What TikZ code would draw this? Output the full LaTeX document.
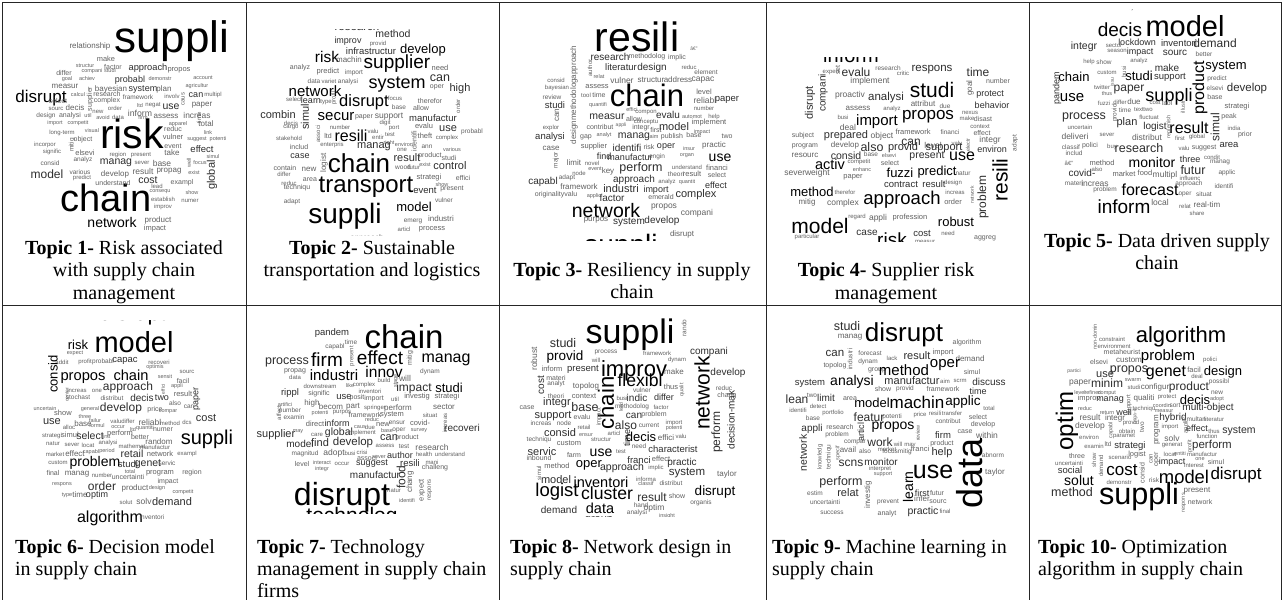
\documentclass[tikz,border=0pt]{standalone}
\usepackage{fontspec}
\newfontfamily\cloudfont{Liberation Sans}
\newfontfamily\capfont{Liberation Serif}
\tikzset{
  cw/.style={inner sep=0pt,outer sep=0pt,anchor=center},
  captext/.style={inner sep=0pt,outer sep=0pt,font=\capfont\fontsize{20}{22.5}\selectfont,text=black},
  tablerule/.style={draw=black!85,line width=0.8pt}
}
% one word of a cloud: x, y, size (pt), text; shade follows the size
\newcommand\Wd[4]{\pgfmathtruncatemacro\wtone{#3>12.9?100:(#3>8.9?82:62)}%
  \node[cw,text=black!\wtone,font={\cloudfont\fontsize{#3}{#3}\selectfont}] at (#1,#2) {#4};}
% the same word set vertically, read from bottom to top
\newcommand\Wv[4]{\pgfmathtruncatemacro\wtone{#3>12.9?100:(#3>8.9?82:62)}%
  \node[cw,rotate=90,text=black!\wtone,font={\cloudfont\fontsize{#3}{#3}\selectfont}] at (#1,#2) {#4};}
\begin{document}
\begin{tikzpicture}[x=1pt,y=-1pt]
\useasboundingbox (0,0) rectangle (1283,600);
\fill[white] (0,0) rectangle (1283,600);

% ---------------- cloud 1: risk ----------------
\Wd{172}{41}{44}{suppli}
\Wd{132}{134}{41}{risk}
\Wd{106}{198}{38}{chain}
\Wd{41}{98}{17}{disrupt}
\Wd{112}{222}{14}{network}
\Wd{47}{174}{12}{model}
\Wd{116}{163}{10.5}{manag}
\Wd{148}{180}{10.5}{cost}
\Wd{202}{149}{9.5}{effect}
\Wd{148}{68}{9.3}{approach}
\Wd{130}{80}{9}{probabl}
\Wd{171}{107}{10.5}{use}
\Wd{196}{95}{9}{can}
\Wd{202}{105}{8}{paper}
\Wv{212}{175}{11}{global}
\Wd{206}{124}{8}{total}
\Wd{197}{115}{8.4}{increas}
\Wd{166}{116}{8}{assess}
\Wd{140}{113}{8.7}{inform}
\Wd{143}{90}{9}{system}
\Wd{164}{89}{8}{plan}
\Wd{111}{89}{8}{bayesian}
\Wd{65}{86}{8}{measur}
\Wd{64}{73}{7}{differ}
\Wd{106}{59}{7.4}{make}
\Wd{113}{67}{7}{factor}
\Wd{90}{46}{8}{relationship}
\Wd{179}{70}{7.5}{propos}
\Wd{58}{101}{7}{select}
\Wd{75}{108}{8}{decis}
\Wd{70}{116}{7}{analysi}
\Wd{46}{116}{6.5}{design}
\Wd{56}{109}{6}{sourc}
\Wd{78}{95}{5.5}{calcul}
\Wd{107}{94}{7}{research}
\Wd{107}{101}{7}{complex}
\Wd{138}{97}{6.5}{framework}
\Wd{172}{96}{6}{involv}
\Wv{183}{99}{6}{caus}
\Wd{213}{95}{6}{multipl}
\Wd{197}{86}{5.5}{agricultur}
\Wd{203}{78}{5.5}{account}
\Wd{160}{79}{5.5}{demonstr}
\Wd{87}{79}{5.5}{achiev}
\Wd{67}{79}{5.5}{goal}
\Wd{85}{66}{5.5}{structur}
\Wd{92}{71}{5.5}{compani}
\Wd{110}{71}{5.5}{studi}
\Wv{90}{99}{7}{supplier}
\Wd{98}{112}{6}{new}
\Wd{115}{108}{6}{order}
\Wd{140}{106}{5.5}{ltd}
\Wd{153}{105}{6}{negat}
\Wd{88}{116}{5.5}{util}
\Wd{103}{118}{5.5}{avoid}
\Wd{118}{117}{6}{data}
\Wd{143}{118}{5.5}{firm}
\Wd{78}{123}{5.5}{competit}
\Wd{55}{123}{5.5}{import}
\Wd{92}{131}{5.5}{visual}
\Wd{62}{133}{6}{long-term}
\Wd{83}{140}{7}{object}
\Wd{45}{145}{6}{incorpor}
\Wd{52}{152}{6}{signific}
\Wv{72}{145}{6.5}{mitig}
\Wd{85}{153}{7.5}{elsevi}
\Wd{50}{163}{6.5}{consid}
\Wd{83}{160}{6.5}{analyz}
\Wd{118}{155}{6}{region}
\Wd{141}{155}{6}{present}
\Wd{142}{163}{6}{sever}
\Wd{80}{172}{6.5}{various}
\Wd{82}{178}{6}{predict}
\Wd{115}{174}{8}{develop}
\Wd{113}{183}{7}{understand}
\Wd{162}{163}{8.5}{base}
\Wd{143}{171}{8.5}{result}
\Wd{169}{171}{8}{propag}
\Wd{172}{153}{8}{take}
\Wd{173}{146}{7}{event}
\Wd{173}{137}{7.5}{vulner}
\Wd{173}{129}{7}{reduc}
\Wd{178}{124}{5.5}{apparel}
\Wv{199}{118}{6}{time}
\Wd{208}{133}{5.5}{link}
\Wd{197}{139}{5.5}{suggest}
\Wd{218}{139}{5.5}{potenti}
\Wd{213}{157}{5.5}{simul}
\Wd{200}{163}{5.5}{focus}
\Wv{189}{163}{5.5}{well}
\Wd{194}{173}{5.5}{exist}
\Wd{182}{183}{7}{exampl}
\Wd{157}{186}{6}{lead}
\Wd{160}{192}{5.5}{consequ}
\Wd{163}{199}{6}{establish}
\Wd{190}{201}{6}{numer}
\Wd{192}{193}{5.5}{show}
\Wd{163}{207}{6}{improv}
\Wd{158}{220}{8}{product}
\Wd{155}{229}{7.5}{impact}

% ---------------- cloud 2: transport ----------------
\begin{scope}
\clip (246,29) rectangle (499,235);
\Wd{357}{26}{11.5}{research}
\Wd{393}{34}{10.5}{method}
\Wd{348}{41}{9}{improv}
\Wd{378}{44}{6}{provid}
\Wd{371}{51}{9.5}{infrastructur}
\Wd{423}{50}{13}{develop}
\Wd{327}{57}{15.5}{risk}
\Wd{349}{60}{8}{machin}
\Wd{397}{64}{19}{supplier}
\Wd{300}{68}{7}{analyz}
\Wd{328}{72}{7.5}{predict}
\Wd{354}{73}{6.5}{import}
\Wd{440}{68}{7.5}{need}
\Wd{440}{78}{12.5}{can}
\Wd{314}{81}{6.5}{data}
\Wd{329}{81}{6}{variet}
\Wd{348}{82}{6.5}{analysi}
\Wd{397}{85}{18}{system}
\Wd{437}{87}{7}{oper}
\Wd{460}{89}{11}{high}
\Wd{315}{91}{15}{network}
\Wd{294}{99}{6}{select}
\Wd{311}{100}{9}{learn}
\Wd{326}{102}{6}{type}
\Wv{334}{98}{6}{profil}
\Wd{364}{102}{16.5}{disrupt}
\Wd{395}{98}{6}{focus}
\Wd{399}{107}{6.5}{base}
\Wd{430}{101}{7}{therefor}
\Wd{421}{108}{7}{allow}
\Wv{458}{106}{6}{order}
\Wd{278}{115}{11}{combin}
\Wv{305}{117}{11}{simul}
\Wd{291}{123}{6}{decis}
\Wd{291}{128}{6}{cargo}
\Wd{336}{117}{15}{secur}
\Wd{364}{117}{7}{paper}
\Wd{389}{117}{8.5}{support}
\Wd{433}{118}{9.5}{manufactur}
\Wd{340}{127}{6}{number}
\Wv{318}{134}{6}{associ}
\Wd{385}{123}{6}{digit}
\Wd{424}{126}{7.5}{evalu}
\Wd{394}{128}{6}{port}
\Wd{373}{131}{6}{valu}
\Wd{448}{129}{11}{use}
\Wd{472}{132}{6.5}{probabl}
\Wd{328}{136}{7}{ltd}
\Wd{351}{136}{16}{resili}
\Wd{378}{137}{6}{entir}
\Wd{390}{135}{6}{test}
\Wd{425}{136}{7.5}{theft}
\Wd{447}{138}{6}{complex}
\Wv{414}{141}{7}{identifi}
\Wd{289}{138}{6}{stakehold}
\Wd{332}{145}{6}{enterpris}
\Wd{389}{143}{5.5}{right}
\Wd{404}{145}{5.5}{environ}
\Wd{427}{147}{6.5}{ann}
\Wd{452}{150}{5.5}{various}
\Wd{374}{147}{11}{manag}
\Wd{402}{150}{6}{one}
\Wd{299}{147}{7}{includ}
\Wd{300}{156}{9}{case}
\Wv{324}{163}{8}{logist}
\Wd{359}{163}{26}{chain}
\Wd{407}{158}{11}{result}
\Wd{430}{156}{7}{product}
\Wd{449}{158}{7}{studi}
\Wd{285}{168}{7}{contain}
\Wd{309}{169}{8}{new}
\Wd{284}{174}{6}{differ}
\Wd{403}{167}{6.5}{wood}
\Wd{414}{167}{6}{futur}
\Wd{425}{165}{5.5}{exist}
\Wd{450}{166}{11}{control}
\Wd{289}{183}{6}{reduc}
\Wd{310}{180}{7}{area}
\Wd{297}{188}{7}{techniqu}
\Wd{366}{187}{24}{transport}
\Wd{429}{178}{7.5}{strategi}
\Wd{442}{185}{5.5}{show}
\Wd{463}{178}{7}{effici}
\Wd{425}{190}{9.5}{event}
\Wd{452}{189}{7}{present}
\Wd{292}{202}{6.5}{adapt}
\Wd{444}{200}{6.5}{vulner}
\Wd{345}{216}{28}{suppli}
\Wd{414}{207}{13}{model}
\Wd{413}{221}{6.5}{emerg}
\Wd{441}{219}{8}{industri}
\Wd{404}{229}{6}{articl}
\Wd{432}{229}{7.5}{process}
\Wd{367}{238}{8}{approach}
\end{scope}

% ---------------- cloud 3: resilience ----------------
\begin{scope}
\clip (499,0) rectangle (766,240);
\Wd{637}{37}{41}{resili}
\Wd{694}{49}{5}{â€\textquotedblright}
\Wd{610}{57}{10}{research}
\Wd{647}{57}{7}{methodolog}
\Wd{677}{58}{7}{implic}
\Wv{574}{95}{8}{designmethodologapproach}
\Wv{590}{68}{6}{author}
\Wd{621}{67}{9.5}{literatur}
\Wd{652}{68}{10}{design}
\Wd{689}{67}{6}{reduc}
\Wd{706}{72}{6.5}{element}
\Wd{556}{80}{6}{consid}
\Wd{599}{77}{5.5}{relat}
\Wd{622}{80}{8.5}{vulner}
\Wd{651}{80}{8}{structur}
\Wd{678}{80}{8}{address}
\Wd{703}{80}{8.5}{capac}
\Wd{557}{88}{6}{bayesian}
\Wd{597}{87}{7.5}{assess}
\Wd{647}{95}{31}{chain}
\Wd{704}{92}{7.5}{level}
\Wd{552}{97}{6.5}{review}
\Wd{586}{95}{6}{tool}
\Wd{599}{95}{7}{time}
\Wd{705}{100}{8.5}{reliabl}
\Wd{727}{100}{9.5}{paper}
\Wd{555}{105}{9.5}{studi}
\Wd{598}{105}{5.5}{quantifi}
\Wd{704}{108}{6}{number}
\Wv{557}{115}{8}{can}
\Wd{607}{117}{10.5}{measur}
\Wd{632}{110}{5.5}{effici}
\Wd{634}{119}{7}{allow}
\Wd{646}{113}{6}{compon}
\Wd{668}{115}{10}{evalu}
\Wd{692}{117}{5.5}{automot}
\Wd{714}{117}{6}{help}
\Wd{646}{122}{6}{conceptu}
\Wd{551}{128}{6}{explor}
\Wd{600}{127}{7}{contribut}
\Wd{621}{125}{5}{appli}
\Wd{641}{128}{7}{integr}
\Wd{656}{130}{7}{first}
\Wd{674}{127}{11}{model}
\Wd{709}{123}{7.5}{implement}
\Wd{702}{132}{5.5}{impact}
\Wd{550}{137}{9.5}{analysi}
\Wd{586}{137}{7}{gap}
\Wd{604}{135}{5.5}{analyt}
\Wd{634}{137}{10.5}{manag}
\Wd{654}{137}{5.5}{aim}
\Wd{672}{137}{7}{publish}
\Wd{694}{135}{7}{base}
\Wd{727}{136}{7}{two}
\Wd{551}{148}{8}{case}
\Wd{594}{147}{7.5}{supplier}
\Wd{627}{148}{10}{identifi}
\Wd{649}{147}{7}{risk}
\Wd{666}{147}{9}{oper}
\Wd{689}{149}{5.5}{insur}
\Wd{714}{145}{8}{practic}
\Wd{720}{158}{14}{use}
\Wv{556}{160}{6.5}{major}
\Wd{574}{163}{8}{limit}
\Wd{592}{163}{6}{novel}
\Wd{604}{156}{9}{find}
\Wd{630}{157}{9}{manufactur}
\Wd{657}{157}{6.5}{engin}
\Wd{687}{156}{5.5}{organ}
\Wd{579}{173}{6}{node}
\Wd{608}{171}{8}{key}
\Wd{595}{169}{5.5}{event}
\Wd{641}{168}{12.5}{perform}
\Wd{687}{167}{6}{understand}
\Wd{676}{174}{6.5}{theori}
\Wd{692}{174}{7.5}{result}
\Wd{717}{168}{7.5}{financi}
\Wd{717}{175}{7}{select}
\Wd{543}{182}{10}{capabl}
\Wd{567}{178}{6.5}{adapt}
\Wd{579}{187}{8}{framework}
\Wd{634}{180}{10}{approach}
\Wd{667}{182}{6}{analyz}
\Wd{687}{182}{5.5}{quantit}
\Wd{716}{185}{9}{effect}
\Wd{556}{195}{7}{originalityvalu}
\Wd{594}{196}{5.5}{applic}
\Wd{621}{189}{11}{industri}
\Wd{656}{190}{9}{import}
\Wd{612}{198}{10}{factor}
\Wd{661}{197}{7}{emerald}
\Wd{696}{195}{11}{complex}
\Wd{606}{211}{19.5}{network}
\Wd{664}{207}{8.5}{propos}
\Wd{697}{213}{8.5}{compani}
\Wd{596}{220}{8}{purpos}
\Wd{629}{222}{10}{system}
\Wd{662}{221}{10}{develop}
\Wd{682}{234}{8}{disrupt}
\Wd{621}{247}{28}{suppli}
\end{scope}

% ---------------- cloud 4: supplier risk ----------------
\begin{scope}
\clip (766,57) rectangle (1029,241);
\Wd{851}{55}{20}{inform}
\Wd{831}{72}{6}{expert}
\Wv{838}{70}{7}{set}
\Wd{856}{72}{12}{evalu}
\Wd{888}{68}{6.5}{research}
\Wd{903}{73}{6}{critic}
\Wd{932}{70}{11.5}{respons}
\Wd{978}{72}{12}{time}
\Wd{870}{81}{8.5}{implement}
\Wd{998}{81}{7}{number}
\Wv{810}{103}{11}{disrupt}
\Wv{823}{93}{10}{compani}
\Wd{850}{95}{8.5}{proactiv}
\Wd{886}{98}{11.5}{analysi}
\Wd{932}{90}{21}{studi}
\Wv{970}{88}{8}{goal}
\Wd{990}{95}{9}{protect}
\Wd{992}{105}{9}{behavior}
\Wd{858}{108}{8}{assess}
\Wd{892}{109}{6}{analyz}
\Wd{923}{104}{8}{attribut}
\Wd{945}{106}{6.5}{due}
\Wd{970}{113}{6}{nexus}
\Wd{928}{117}{17}{propos}
\Wd{843}{117}{6}{busi}
\Wd{877}{122}{15}{import}
\Wd{967}{118}{6}{make}
\Wd{983}{119}{7}{disast}
\Wd{848}{127}{8.5}{deal}
\Wd{980}{127}{6}{context}
\Wd{803}{136}{7}{subject}
\Wd{846}{136}{11}{prepared}
\Wd{882}{136}{8.5}{object}
\Wd{913}{132}{7.5}{framework}
\Wd{950}{132}{6.5}{financi}
\Wd{982}{133}{7}{effect}
\Wd{911}{142}{12}{can}
\Wd{933}{145}{8.5}{level}
\Wd{957}{143}{6}{valu}
\Wv{968}{145}{5.5}{electr}
\Wd{990}{140}{8.5}{integr}
\Wv{1015}{143}{6.5}{adapt}
\Wd{805}{146}{7}{program}
\Wd{845}{145}{8}{develop}
\Wd{872}{147}{12.5}{also}
\Wd{903}{148}{11}{provid}
\Wd{944}{148}{11}{support}
\Wd{992}{149}{9}{environ}
\Wd{805}{155}{8}{resourc}
\Wd{846}{156}{10.5}{consid}
\Wd{871}{154}{6.5}{base}
\Wd{889}{156}{5.5}{elsevi}
\Wd{927}{156}{10.5}{present}
\Wd{962}{156}{16}{use}
\Wv{1000}{180}{21}{resili}
\Wv{983}{197}{12}{problem}
\Wd{830}{164}{14.5}{activ}
\Wd{859}{162}{6}{competit}
\Wd{890}{163}{7}{select}
\Wd{937}{172}{13}{predict}
\Wd{963}{173}{6.5}{natur}
\Wd{807}{173}{8.5}{severweight}
\Wd{862}{169.5}{5.5}{enhanc}
\Wd{853}{177}{7.5}{paper}
\Wd{900}{173}{13}{fuzzi}
\Wd{901}{184}{9.5}{contract}
\Wd{934}{184}{9.5}{result}
\Wd{953}{183}{6}{design}
\Wv{972}{195}{5}{network}
\Wd{812}{192}{13}{method}
\Wd{845}{192}{6}{therefor}
\Wd{955}{192}{6}{increas}
\Wd{902}{200}{18.5}{approach}
\Wd{807}{202}{8}{mitig}
\Wd{843}{203}{8.5}{complex}
\Wd{953}{202}{7.5}{order}
\Wd{857}{217}{6}{regard}
\Wd{878}{218}{8.5}{appli}
\Wd{910}{218}{7.5}{profession}
\Wd{956}{222}{13}{robust}
\Wd{820}{226}{21}{model}
\Wd{867}{233}{10}{case}
\Wd{892}{240}{19}{risk}
\Wd{922}{233}{9.5}{cost}
\Wd{948}{233}{6}{need}
\Wd{807}{237}{6}{particular}
\Wd{925}{242}{6}{measur}
\Wd{985}{238}{7}{aggreg}
\end{scope}

% ---------------- cloud 5: data ----------------
\begin{scope}
\clip (1029,9) rectangle (1281,240);
\Wd{1137}{8}{6}{dynam}
\Wd{1120}{30}{19}{decis}
\Wd{1185}{26}{29}{model}
\Wd{1137}{42}{9}{lockdown}
\Wd{1084}{47}{10.5}{integr}
\Wd{1114}{46}{6}{sector}
\Wd{1117}{51}{6}{season}
\Wd{1140}{52}{9}{impact}
\Wd{1179}{43}{9.5}{inventori}
\Wd{1215}{43}{12}{demand}
\Wd{1175}{53}{10}{sourc}
\Wd{1204}{54}{6.5}{better}
\Wd{1089}{62}{6}{help}
\Wd{1104}{62}{6.5}{show}
\Wd{1139}{61}{6}{analyz}
\Wv{1124}{72}{6}{busi}
\Wd{1167}{68}{10}{make}
\Wv{1200}{88}{16}{product}
\Wd{1226}{67}{13}{system}
\Wv{1057}{88}{9}{pandem}
\Wd{1074}{77}{13}{chain}
\Wd{1107}{73}{6}{custom}
\Wd{1139}{76}{13}{studi}
\Wd{1170}{77}{9.5}{support}
\Wd{1217}{79}{6.5}{predict}
\Wv{1112}{82}{5}{issu}
\Wd{1102}{87}{6}{twitter}
\Wd{1129}{90}{12}{paper}
\Wd{1215}{88}{6.5}{elsevi}
\Wd{1247}{89}{11.5}{develop}
\Wd{1072}{98}{15}{use}
\Wd{1107}{94}{5.5}{thus}
\Wd{1169}{97}{18}{suppli}
\Wd{1215}{97}{7}{base}
\Wd{1104}{103}{6}{fuzzi}
\Wd{1120}{102}{6}{differ}
\Wd{1134}{102}{8}{due}
\Wd{1155}{103}{6}{cost}
\Wd{1167}{103}{6.5}{tool}
\Wv{1183}{107}{5.5}{illustr}
\Wv{1115}{113}{6.5}{provid}
\Wd{1125}{110}{6.5}{time}
\Wd{1139}{110}{6}{text}
\Wd{1148}{110}{6}{two}
\Wd{1237}{107}{7.5}{strategi}
\Wd{1084}{117}{12.5}{process}
\Wd{1149}{117}{6}{fluctuat}
\Wv{1169}{127}{5.5}{replenish}
\Wd{1229}{117}{7}{peak}
\Wv{1215}{127}{12}{simul}
\Wd{1127}{123}{11}{plan}
\Wd{1155}{127}{10}{logist}
\Wd{1080}{127}{6}{uncertain}
\Wd{1189}{128}{16}{result}
\Wd{1234}{128}{6}{india}
\Wd{1245}{135}{7}{prior}
\Wd{1075}{136}{8.5}{deliveri}
\Wd{1107}{135}{6}{sever}
\Wd{1147}{137}{8.5}{distribut}
\Wd{1180}{138}{6}{first}
\Wd{1197}{137}{6}{global}
\Wd{1071}{147}{6.5}{classif}
\Wd{1090}{146}{7}{polici}
\Wd{1112}{147}{6}{buy}
\Wd{1139}{148}{12.5}{research}
\Wd{1184}{148}{6}{valu}
\Wd{1204}{148}{7}{suggest}
\Wd{1229}{145}{9.5}{area}
\Wd{1074}{153}{6.5}{includ}
\Wd{1069}{163}{6}{â€\textquotedblright}
\Wd{1102}{163}{7.5}{method}
\Wd{1152}{162}{14}{monitor}
\Wd{1190}{159}{9}{three}
\Wd{1212}{157}{6}{condit}
\Wd{1220}{162}{6.5}{manag}
\Wd{1097}{169}{6}{also}
\Wd{1082}{173}{10}{covid-}
\Wd{1124}{174}{7.5}{market}
\Wd{1145}{173}{7.5}{food}
\Wd{1165}{175}{8.5}{multipl}
\Wd{1193}{170}{12.5}{futur}
\Wd{1190}{178}{6}{influenc}
\Wd{1227}{173}{6.5}{applic}
\Wd{1074}{183}{6.5}{materi}
\Wd{1095}{183}{8.5}{increas}
\Wd{1105}{190}{6.5}{problem}
\Wd{1150}{190}{16}{forecast}
\Wd{1189}{184}{6.5}{approach}
\Wd{1224}{186}{6.5}{identifi}
\Wd{1185}{194}{6.5}{oper}
\Wd{1204}{194}{6.5}{situat}
\Wd{1124}{207}{19}{inform}
\Wd{1160}{202}{8.5}{local}
\Wd{1185}{206}{6}{relat}
\Wd{1207}{205}{8}{real-tim}
\Wd{1197}{213}{6}{share}
\end{scope}

% ---------------- cloud 6: decision model ----------------
\begin{scope}
\clip (2,320) rectangle (246,543);
\Wd{133}{315}{22}{disrupt}
\Wd{78}{345}{13}{risk}
\Wd{134}{342}{29}{model}
\Wd{75}{353}{5.5}{expect}
\Wd{62}{362}{6}{addit}
\Wd{85}{362}{6}{profit}
\Wd{103}{362}{6.5}{probabl}
\Wd{125}{361}{9.5}{capac}
\Wd{159}{362}{6}{recoveri}
\Wd{155}{367}{5.5}{optimis}
\Wv{53}{374}{13}{consid}
\Wd{83}{378}{14.7}{propos}
\Wd{131}{375}{14.6}{chain}
\Wd{165}{377}{5.5}{sensit}
\Wd{187}{372}{6}{sourc}
\Wd{183}{381}{7}{facil}
\Wd{177}{386}{5.5}{appli}
\Wv{163}{389}{5}{effici}
\Wd{183}{394}{7.5}{result}
\Wv{197}{399}{9}{paper}
\Wd{128}{387}{12}{approach}
\Wd{77}{390}{6}{increas}
\Wd{97}{391}{6}{one}
\Wv{67}{395}{5}{center}
\Wd{78}{397}{6.5}{stochast}
\Wd{112}{398}{6.5}{distribut}
\Wd{142}{398}{10}{decis}
\Wd{162}{398}{9}{two}
\Wd{175}{403}{6.5}{also}
\Wd{189}{407}{6.5}{can}
\Wd{45}{409}{5.5}{uncertain}
\Wd{63}{413}{7.5}{show}
\Wd{90}{409}{5.5}{general}
\Wd{121}{408}{12}{develop}
\Wd{155}{410}{7}{price}
\Wd{168}{412}{5.5}{compar}
\Wd{52}{422}{11}{use}
\Wd{85}{417}{5.5}{three}
\Wd{69}{427}{6}{alloc}
\Wd{83}{424}{8}{base}
\Wd{95}{421}{5.5}{failur}
\Wd{97}{426}{5.5}{formul}
\Wd{116}{421}{6}{valu}
\Wd{128}{421}{6}{differ}
\Wd{118}{427}{5.5}{occur}
\Wd{150}{422}{8.5}{reliabl}
\Wd{170}{423}{6}{method}
\Wd{187}{422}{6}{dcs}
\Wd{206}{418}{11}{cost}
\Wd{52}{436}{6}{strategi}
\Wd{70}{435}{7.5}{simul}
\Wd{90}{436}{10.5}{select}
\Wd{106}{437}{5.5}{first}
\Wd{120}{434}{7.5}{perform}
\Wd{133}{430}{5.5}{ltd}
\Wd{145}{428}{5.5}{quantiti}
\Wd{163}{430}{7}{numer}
\Wd{140}{437}{7}{better}
\Wd{159}{442}{8}{random}
\Wd{207}{439}{20}{suppli}
\Wd{53}{444}{6}{natur}
\Wd{72}{445}{6}{sever}
\Wd{88}{445}{6}{locat}
\Wd{108}{443}{6}{analysi}
\Wd{132}{446}{6}{mathemat}
\Wd{155}{447}{6}{manufactur}
\Wd{55}{454}{6}{market}
\Wd{75}{454}{8}{effect}
\Wd{91}{452}{5.5}{capabl}
\Wd{107}{451}{5.5}{period}
\Wd{132}{454}{10.5}{retail}
\Wd{160}{454}{7.5}{network}
\Wd{187}{454}{6}{exampl}
\Wd{58}{463}{6}{custom}
\Wd{95}{463}{14}{problem}
\Wd{128}{464}{9.5}{studi}
\Wd{148}{464}{10.5}{genet}
\Wd{167}{463}{6.5}{servic}
\Wd{53}{473}{7}{final}
\Wd{77}{474}{8}{manag}
\Wd{102}{475}{6}{number}
\Wd{130}{472}{5.5}{total}
\Wd{128}{477}{7}{uncertainti}
\Wd{160}{473}{7.5}{program}
\Wd{192}{473}{7}{region}
\Wd{62}{485}{5.5}{respons}
\Wd{102}{486}{12}{order}
\Wd{135}{488}{8}{product}
\Wd{168}{482}{7}{impact}
\Wd{157}{488}{5.5}{design}
\Wd{183}{492}{5.5}{competit}
\Wd{67}{495}{5.5}{type}
\Wd{80}{495}{8}{time}
\Wd{97}{495}{9}{optim}
\Wd{126}{502}{6}{solut}
\Wd{144}{501}{8.5}{solv}
\Wd{172}{502}{11}{demand}
\Wd{110}{518}{16}{algorithm}
\Wd{152}{517}{6.5}{inventori}
\end{scope}

% ---------------- cloud 7: technology ----------------
\begin{scope}
\clip (246,318) rectangle (499,513);
\Wd{404}{337}{33}{chain}
\Wd{332}{333}{9.5}{pandem}
\Wd{335}{347}{6.5}{capabl}
\Wd{351}{342}{6.5}{time}
\Wv{352}{356}{6}{present}
\Wd{287}{362}{12.5}{process}
\Wd{327}{360}{19}{firm}
\Wd{380}{358}{19}{effect}
\Wv{410}{358}{7}{mitig}
\Wd{446}{360}{16}{manag}
\Wd{295}{371}{7}{propag}
\Wd{295}{377}{6}{data}
\Wd{334}{375}{15}{industri}
\Wd{384}{372}{15.5}{innov}
\Wd{384}{380}{6}{build}
\Wv{396}{381}{5.5}{stage}
\Wd{405}{378}{8.5}{will}
\Wd{430}{372}{6.5}{dynam}
\Wd{320}{386}{6}{downstream}
\Wd{350}{386}{5.5}{like}
\Wd{364}{385}{6}{complex}
\Wd{414}{388}{12}{impact}
\Wd{449}{388}{13}{studi}
\Wd{370}{391}{6}{inventori}
\Wd{290}{393}{9.5}{rippl}
\Wd{319}{394}{7}{signific}
\Wd{344}{397}{9.5}{use}
\Wd{357}{398}{7}{posit}
\Wd{374}{399}{7}{import}
\Wd{395}{399}{6}{util}
\Wd{417}{397}{7.5}{investig}
\Wd{447}{397}{7.5}{strategi}
\Wd{285}{405}{5.5}{artifici}
\Wv{279}{413}{6}{affect}
\Wd{312}{403}{8}{high}
\Wd{331}{407}{8}{becom}
\Wd{353}{407}{8}{part}
\Wd{375}{408}{6}{springer}
\Wd{398}{408}{8}{perform}
\Wd{444}{407}{8}{sector}
\Wd{290}{410}{6.5}{number}
\Wd{294}{417}{6.5}{examin}
\Wd{320}{413}{5.5}{potenti}
\Wd{342}{413}{6}{purpos}
\Wd{365}{415}{7}{framework}
\Wd{392}{415}{7.5}{system}
\Wd{430}{415}{6}{situat}
\Wd{315}{424}{7.5}{direct}
\Wd{337}{423}{9}{inform}
\Wd{372}{420}{5.5}{reduc}
\Wd{360}{427}{5.5}{caus}
\Wd{370}{427}{6}{due}
\Wd{383}{425}{7.5}{new}
\Wd{397}{423}{6.5}{ensur}
\Wd{420}{423}{7.5}{covid-}
\Wv{445}{423}{6}{increas}
\Wd{276}{435}{11}{supplier}
\Wd{298}{432}{5.5}{may}
\Wd{317}{435}{6}{care}
\Wd{339}{433}{10.5}{global}
\Wd{362}{433}{6}{implement}
\Wd{387}{431}{5.5}{base}
\Wd{399}{430}{6.5}{oper}
\Wd{419}{431}{5.5}{survey}
\Wd{462}{428}{10}{recoveri}
\Wd{300}{444}{10}{model}
\Wd{320}{443}{11}{find}
\Wd{353}{443}{11.5}{develop}
\Wd{389}{438}{11}{can}
\Wd{407}{438}{7}{product}
\Wd{385}{446}{6}{assess}
\Wd{404}{446}{6.5}{test}
\Wd{432}{447}{8.5}{research}
\Wd{305}{454}{6.5}{magnitud}
\Wd{334}{453}{8.5}{adopt}
\Wd{350}{453}{6}{busi}
\Wd{362}{452}{6}{crisi}
\Wd{367}{458}{7}{associ}
\Wd{379}{457}{5.5}{sever}
\Wd{400}{455}{9}{author}
\Wd{424}{454}{6}{health}
\Wd{450}{454}{6}{understand}
\Wd{302}{464}{7}{level}
\Wd{322}{463}{5.5}{interact}
\Wd{342}{464}{6}{occur}
\Wd{322}{469}{5.5}{integr}
\Wd{372}{464}{9}{suggest}
\Wd{410}{463}{9.5}{resili}
\Wd{432}{462}{6}{mani}
\Wd{435}{468}{7}{challeng}
\Wd{375}{475}{10}{manufactur}
\Wv{401}{477}{12}{food}
\Wv{410}{482}{8}{chang}
\Wv{422}{490}{7.5}{expect}
\Wv{430}{490}{6}{respons}
\Wd{342}{497}{32}{disrupt}
\Wd{394}{491}{6}{natur}
\Wd{407}{501}{5.5}{identifi}
\Wd{352}{517}{21}{technolog}
\end{scope}

% ---------------- cloud 8: network design ----------------
\begin{scope}
\clip (499,306) rectangle (766,516);
\Wd{630}{335}{34}{suppli}
\Wv{684}{328}{6.5}{rando}
\Wd{563}{343}{12.5}{studi}
\Wv{534}{359}{8.5}{robust}
\Wd{565}{357}{13.5}{provid}
\Wd{606}{352}{6.5}{process}
\Wd{657}{353}{6}{framework}
\Wd{709}{352}{10}{compani}
\Wd{596}{360}{6}{will}
\Wd{677}{360}{6}{dynam}
\Wd{552}{369}{7.5}{inform}
\Wd{583}{369}{9.5}{present}
\Wd{634}{371}{22}{improv}
\Wd{674}{372}{8}{make}
\Wv{702}{393}{21}{network}
\Wd{728}{373}{10}{develop}
\Wv{541}{385}{10}{cost}
\Wd{556}{378}{7}{materi}
\Wd{556}{384}{6.5}{analyt}
\Wd{556}{396}{6.5}{theori}
\Wd{586}{386}{8}{topolog}
\Wv{606}{403}{22}{chain}
\Wd{640}{380}{17.6}{flexibl}
\Wd{671}{387}{7.5}{thus}
\Wv{682}{390}{5.5}{qualit}
\Wd{724}{388}{6.5}{reduc}
\Wd{727}{396}{7}{chang}
\Wd{584}{396}{7.5}{context}
\Wd{642}{390}{6.5}{vulner}
\Wd{622}{398}{6}{busi}
\Wd{637}{398}{10}{indic}
\Wd{664}{397}{9}{differ}
\Wd{557}{403}{11}{integr}
\Wd{585}{407}{12.5}{base}
\Wv{621}{407}{5}{lead}
\Wd{632}{407}{6.5}{methodolog}
\Wd{661}{407}{6}{factor}
\Wd{527}{408}{7}{case}
\Wd{553}{416}{11}{support}
\Wd{582}{417}{7}{evalu}
\Wv{599}{417}{6}{impact}
\Wd{634}{416}{10}{can}
\Wd{654}{415}{7}{problem}
\Wv{731}{420}{10}{decision-mak}
\Wv{717}{432}{12}{perform}
\Wd{541}{423}{6.5}{increas}
\Wd{564}{423}{6.5}{node}
\Wd{584}{427}{6}{retail}
\Wd{626}{425}{12}{also}
\Wd{649}{425}{6.5}{current}
\Wd{674}{423}{6}{import}
\Wd{674}{428}{5.5}{potenti}
\Wd{560}{433}{11}{consid}
\Wd{586}{435}{5.5}{ensur}
\Wd{614}{433}{6}{articl}
\Wd{601}{440}{6}{structur}
\Wv{627}{438}{9}{time}
\Wd{641}{437}{13}{decis}
\Wd{666}{438}{8}{effici}
\Wd{681}{436}{6}{valu}
\Wd{539}{440}{6.5}{techniqu}
\Wd{569}{443}{7.5}{custom}
\Wd{639}{446}{6.5}{need}
\Wd{673}{449}{9.5}{characterist}
\Wd{542}{452}{11}{servic}
\Wd{574}{455}{7}{farm}
\Wd{601}{453}{14}{use}
\Wd{621}{452}{6}{test}
\Wd{539}{458}{7}{inbound}
\Wd{639}{460}{9.5}{franci}
\Wd{661}{459}{7.5}{effect}
\Wd{682}{463}{10}{practic}
\Wd{557}{466}{7.5}{method}
\Wd{589}{465}{13}{oper}
\Wd{622}{468}{10.5}{approach}
\Wd{656}{468}{6}{implic}
\Wd{687}{473}{11.5}{system}
\Wd{727}{474}{8}{taylor}
\Wv{539}{473}{6}{simul}
\Wd{556}{480}{11}{model}
\Wd{601}{482}{14.5}{inventori}
\Wd{646}{479}{6}{informa}
\Wd{646}{484}{5.5}{classif}
\Wd{671}{483}{6.5}{distribut}
\Wd{557}{492}{18.5}{logist}
\Wd{607}{493}{17.6}{cluster}
\Wd{652}{497}{12}{result}
\Wd{677}{496}{7}{show}
\Wd{715}{492}{13.5}{disrupt}
\Wd{701}{503}{6.5}{organis}
\Wd{559}{510}{10}{demand}
\Wd{600}{508}{14.5}{data}
\Wd{599}{521}{11}{group}
\Wd{641}{505}{6.5}{hand}
\Wd{654}{508}{8.5}{optim}
\Wd{637}{513}{6.5}{analysi}
\Wd{667}{516}{5.5}{insight}
\end{scope}

% ---------------- cloud 9: machine learning ----------------
\begin{scope}
\clip (766,318) rectangle (1029,520);
\Wd{847}{326}{12.5}{studi}
\Wd{904}{335}{26}{disrupt}
\Wd{850}{337}{8}{manag}
\Wd{967}{343}{7}{algorithm}
\Wd{835}{353}{11.5}{can}
\Wv{850}{359}{6.5}{industri}
\Wd{870}{353}{6.5}{forecast}
\Wd{892}{358}{6}{lack}
\Wd{917}{356}{11}{result}
\Wd{943}{353}{7.5}{import}
\Wd{970}{359}{8}{demand}
\Wd{868}{362}{6.5}{dynam}
\Wd{835}{366}{7}{topolog}
\Wd{877}{370}{7}{group}
\Wd{904}{370}{15}{method}
\Wd{945}{365}{15}{oper}
\Wd{972}{372}{7}{simul}
\Wd{810}{383}{9.5}{system}
\Wd{852}{382}{14}{analysi}
\Wd{912}{381}{11}{manufactur}
\Wd{945}{381}{6}{aim}
\Wd{960}{381}{6}{scrm}
\Wd{989}{382}{10}{discuss}
\Wd{883}{389}{7}{show}
\Wd{905}{389}{6.5}{provid}
\Wd{943}{389}{7}{framework}
\Wd{978}{391}{9}{time}
\Wd{797}{399}{12}{lean}
\Wd{812}{395}{6.5}{two}
\Wd{826}{398}{10}{limit}
\Wd{850}{399}{7}{area}
\Wd{798}{410}{6}{identifi}
\Wd{818}{406}{6}{detect}
\Wd{872}{403}{13}{model}
\Wd{917}{402}{17}{machin}
\Wd{963}{402}{13.5}{applic}
\Wd{989}{408}{6}{total}
\Wd{833}{413}{6}{portfolio}
\Wd{813}{418}{6.5}{base}
\Wd{869}{417}{12}{featur}
\Wd{892}{417}{6.5}{potenti}
\Wd{920}{415}{6}{price}
\Wd{935}{413}{6}{resili}
\Wd{952}{413}{6}{transfer}
\Wd{948}{421}{6.5}{contribut}
\Wd{978}{417}{7}{select}
\Wd{983}{425}{7}{develop}
\Wd{812}{429}{10}{appli}
\Wd{840}{427}{7}{research}
\Wv{861}{432}{9}{articl}
\Wd{893}{427}{14}{propos}
\Wv{918}{433}{5.5}{review}
\Wd{837}{435}{6.5}{problem}
\Wd{965}{432}{7}{case}
\Wd{943}{435}{9.5}{firm}
\Wd{987}{435}{8.5}{within}
\Wd{942}{444}{7}{product}
\Wv{803}{453}{10.5}{network}
\Wv{820}{457}{6}{knowledg}
\Wv{829}{457}{6.5}{techniqu}
\Wv{838}{453}{5.5}{specif}
\Wd{855}{442}{6.5}{compar}
\Wd{880}{442}{12}{work}
\Wd{898}{444}{6}{will}
\Wd{910}{446}{6}{may}
\Wd{887}{449}{6}{market}
\Wd{848}{450}{8}{avail}
\Wd{865}{451}{6.5}{also}
\Wd{897}{452}{6.5}{focusmitig}
\Wd{920}{449}{7.5}{franci}
\Wd{942}{453}{11}{help}
\Wd{993}{455}{6.5}{abnorm}
\Wd{851}{463}{12}{scns}
\Wd{881}{462}{10}{monitor}
\Wd{880}{469}{6}{interpret}
\Wd{883}{474}{5.5}{support}
\Wv{908}{487}{14}{learn}
\Wd{933}{472}{25}{use}
\Wv{970}{473}{36}{data}
\Wd{995}{472}{8}{taylor}
\Wd{841}{482}{12.5}{perform}
\Wv{868}{495}{8}{investig}
\Wd{815}{493}{6.5}{estim}
\Wd{848}{493}{11}{relat}
\Wd{922}{493}{9}{first}
\Wd{937}{493}{7}{futur}
\Wd{825}{502}{6.5}{uncertainti}
\Wd{888}{502}{6.5}{prevent}
\Wd{922}{499}{8}{infer}
\Wd{938}{502}{7}{sourc}
\Wd{832}{513}{6.5}{success}
\Wd{887}{514}{7}{analyt}
\Wd{923}{512}{10.5}{practic}
\Wd{945}{511}{6}{final}
\end{scope}

% ---------------- cloud 10: optimisation ----------------
\Wv{1095}{337}{5.5}{non-domin}
\Wd{1112}{339}{6}{constraint}
\Wd{1114}{346}{6}{environment}
\Wd{1122}{352}{7}{metaheurist}
\Wd{1181}{337}{22}{algorithm}
\Wd{1129}{360}{8}{custom}
\Wd{1168}{357}{15}{problem}
\Wd{1099}{362}{7}{elsevi}
\Wd{1210}{360}{6}{polici}
\Wd{1074}{371}{5}{partici}
\Wd{1105}{375}{11}{use}
\Wd{1129}{370}{12.5}{propos}
\Wd{1166}{373}{16}{genet}
\Wd{1194}{370}{7.5}{facil}
\Wd{1197}{376}{6}{deal}
\Wd{1223}{372}{13}{design}
\Wd{1080}{383}{8.5}{paper}
\Wd{1107}{383}{12}{minim}
\Wd{1133}{380}{5.5}{swarm}
\Wd{1219}{382}{6.5}{possibl}
\Wd{1134}{387}{6}{studi}
\Wd{1155}{387}{8}{configur}
\Wd{1189}{387}{12}{product}
\Wd{1217}{393}{6.5}{new}
\Wd{1080}{393}{5.5}{level}
\Wd{1093}{393}{5.5}{refineri}
\Wd{1107}{393}{5.5}{comput}
\Wv{1067}{421}{24}{optim}
\Wd{1089}{399}{7.5}{improv}
\Wd{1110}{400}{9}{manag}
\Wv{1129}{405}{6}{support}
\Wd{1144}{398}{8}{qualiti}
\Wd{1167}{397}{6}{protect}
\Wd{1195}{400}{13}{decis}
\Wd{1217}{399}{5.5}{adopt}
\Wd{1175}{405}{6.5}{sort}
\Wd{1162}{406}{5.5}{coordin}
\Wd{1085}{409}{5.5}{reduc}
\Wd{1107}{413}{5.5}{return}
\Wd{1124}{412}{9}{well}
\Wd{1144}{409}{6}{techniqu}
\Wd{1164}{411}{5.5}{measur}
\Wd{1208}{408}{10}{multi-object}
\Wv{1135}{417}{5}{nsga-ii}
\Wd{1090}{417}{8.5}{result}
\Wd{1115}{418}{8}{integr}
\Wd{1131}{423}{6}{provid}
\Wd{1173}{418}{10}{hybrid}
\Wd{1194}{419}{6.5}{simultan}
\Wd{1214}{419}{6}{literatur}
\Wd{1090}{426}{8.5}{develop}
\Wv{1111}{430}{5.5}{capabl}
\Wv{1142}{427}{6.5}{two}
\Wv{1157}{430}{8}{program}
\Wd{1170}{427}{6}{import}
\Wv{1186}{427}{6}{appli}
\Wd{1197}{428}{9}{effect}
\Wd{1214}{431}{6}{thus}
\Wd{1127}{431}{6}{obtain}
\Wd{1089}{437}{6}{environ}
\Wd{1124}{436}{6}{paramet}
\Wd{1172}{438}{8.5}{solv}
\Wd{1207}{436}{6}{function}
\Wd{1239}{431}{10.5}{system}
\Wd{1094}{446}{6}{examin}
\Wd{1108}{444}{6.5}{ltd}
\Wd{1130}{446}{9.5}{strategi}
\Wd{1172}{445}{6}{generat}
\Wv{1190}{446}{5.5}{profit}
\Wd{1212}{446}{11.5}{perform}
\Wd{1077}{456}{7}{three}
\Wv{1094}{460}{6}{show}
\Wv{1101}{466}{6}{demand}
\Wd{1120}{457}{6}{scenario}
\Wd{1137}{455}{7.5}{logist}
\Wv{1151}{459}{6}{can}
\Wv{1157}{459}{7}{oper}
\Wd{1170}{454}{6}{locat}
\Wd{1180}{454}{5.5}{entiti}
\Wd{1202}{454}{6}{manufactur}
\Wd{1069}{463}{6}{uncertainti}
\Wd{1172}{462}{9}{impact}
\Wd{1194}{465}{6}{interest}
\Wd{1200}{459}{5.5}{one}
\Wd{1216}{462}{7}{simul}
\Wd{1070}{470}{9.5}{social}
\Wd{1122}{470}{17}{cost}
\Wv{1142}{473}{7}{consid}
\Wd{1154}{480}{6.5}{risk}
\Wd{1184}{477}{18.4}{model}
\Wd{1236}{475}{17}{disrupt}
\Wd{1079}{480}{14}{solut}
\Wd{1119}{482}{6}{demonstr}
\Wd{1072}{492}{12.5}{method}
\Wd{1139}{497}{30.6}{suppli}
\Wd{1197}{491}{8}{present}
\Wv{1184}{503}{5.5}{respons}
\Wd{1200}{502}{7}{network}

% ---------------- captions ----------------
\node[captext,anchor=base] (c1a) at (124,254) {\textbf{Topic 1-} Risk associated};
\node[captext,anchor=base] (c1b) at (124,276.5) {with supply chain};
\node[captext,anchor=base] (c1c) at (124,299) {management};
\node[captext,anchor=base] (c2a) at (372,254) {\textbf{Topic 2-} Sustainable};
\node[captext,anchor=base] (c2b) at (372,276.5) {transportation and logistics};
\node[captext,anchor=base] (c3a) at (632,276) {\textbf{Topic 3-} Resiliency in supply};
\node[captext,anchor=base] (c3b) at (632,298.5) {chain};
\node[captext,anchor=base] (c4a) at (886,276.5) {\textbf{Topic 4-} Supplier risk};
\node[captext,anchor=base] (c4b) at (886,299) {management};
\node[captext,anchor=base] (c5a) at (1157,247) {\textbf{Topic 5-} Data driven supply};
\node[captext,anchor=base] (c5b) at (1157,269.5) {chain};
\node[captext,anchor=base west] (c6a) at (15,553) {\textbf{Topic 6-} Decision model};
\node[captext,anchor=base west] (c6b) at (15,575) {in supply chain};
\node[captext,anchor=base west] (c7a) at (257,553) {\textbf{Topic 7-} Technology};
\node[captext,anchor=base west] (c7b) at (257,575) {management in supply chain};
\node[captext,anchor=base west] (c7c) at (257,597) {firms};
\node[captext,anchor=base west] (c8a) at (510,553) {\textbf{Topic 8-} Network design in};
\node[captext,anchor=base west] (c8b) at (510,575) {supply chain};
\node[captext,anchor=base west] (c9a) at (772,553) {\textbf{Topic 9-} Machine learning in};
\node[captext,anchor=base west] (c9b) at (772,575) {supply chain};
\node[captext,anchor=base west] (c10a) at (1038,553) {\textbf{Topic 10-} Optimization};
\node[captext,anchor=base west] (c10b) at (1038,575) {algorithm in supply chain};

% ---------------- table rules ----------------
\draw[tablerule] (2,2) -- (1281,2);
\draw[tablerule] (2,305) -- (1281,305);
\foreach \xx in {2,246,499,766,1029,1281}
  \draw[tablerule] (\xx,2) -- (\xx,600);
\end{tikzpicture}
\end{document}
